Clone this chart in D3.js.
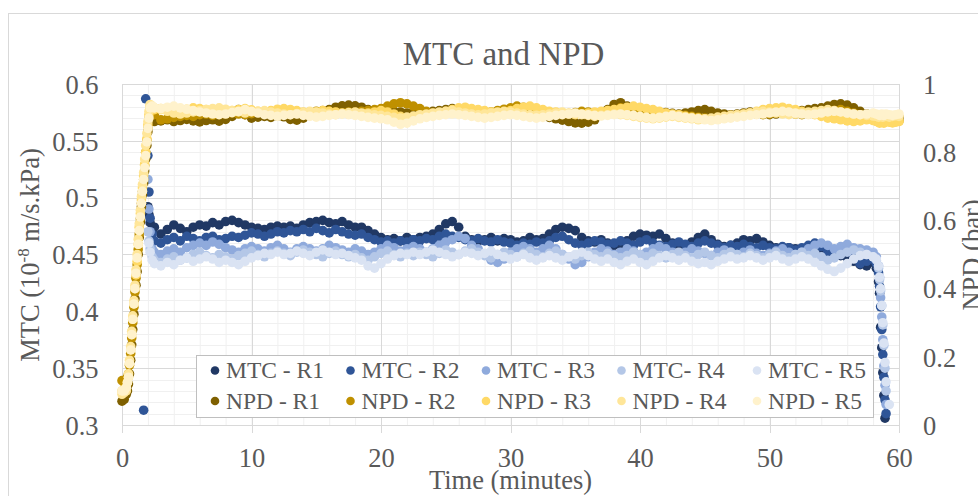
<!DOCTYPE html>
<html>
<head>
<meta charset="utf-8">
<title>MTC and NPD</title>
<script src="https://cdn.jsdelivr.net/npm/d3@7"></script>
<style>
    body { margin: 0; background: #fff; }
    #chart-area text { font-family: "Liberation Serif", "Times New Roman", serif; fill: #595959; }
</style>
</head>
<body>
<div id="chart-area"></div>
<script>

// sample times (minutes) shared by all ten series
var minutes = [
    0, 0.17, 0.33, 0.42, 0.5, 0.58, 0.67, 0.75, 0.83, 0.92, 1, 1.08, 1.17, 1.25,
    1.33, 1.42, 1.5, 1.58, 1.67, 1.75, 1.83, 1.92, 2, 2.08, 2.17, 2.33, 2.5,
    3, 3.5, 4, 4.5, 5, 5.5, 6, 6.5, 7, 7.5,
    8, 8.5, 9, 9.5, 10, 10.5, 11, 11.5, 12, 12.5,
    13, 13.5, 14, 14.5, 15, 15.5, 16, 16.5, 17, 17.5,
    18, 18.5, 19, 19.5, 20, 20.5, 21, 21.5, 22, 22.5,
    23, 23.5, 24, 24.5, 25, 25.5, 26, 26.5, 27, 27.5,
    28, 28.5, 29, 29.5, 30, 30.5, 31, 31.5, 32, 32.5,
    33, 33.5, 34, 34.5, 35, 35.5, 36, 36.5, 37, 37.5,
    38, 38.5, 39, 39.5, 40, 40.5, 41, 41.5, 42, 42.5,
    43, 43.5, 44, 44.5, 45, 45.5, 46, 46.5, 47, 47.5,
    48, 48.5, 49, 49.5, 50, 50.5, 51, 51.5, 52, 52.5,
    53, 53.5, 54, 54.5, 55, 55.5, 56, 56.5, 57, 57.5,
    58,
    58.25, 58.42, 58.5, 58.58, 58.67, 58.75, 58.83, 58.92, 59, 59.25, 59.5, 59.75, 60
];

// MTC (10^-8 m/s.kPa), left axis
var mtcR1 = [
    null, null, null, null, null, null, null, null, null, null, null, null, null, null,
    null, null, null, null, null, null, null, null, 0.492, 0.485, 0.478, 0.470, 0.474,
    0.468, 0.472, 0.476, 0.473, 0.470, 0.474, 0.476, 0.475, 0.478, 0.476,
    0.479, 0.480, 0.478, 0.476, 0.474, 0.473, 0.472, 0.474, 0.475, 0.474,
    0.475, 0.473, 0.476, 0.478, 0.479, 0.480, 0.478, 0.477, 0.479, 0.476,
    0.474, 0.474, 0.471, 0.468, 0.465, 0.463, 0.464, 0.462, 0.465, 0.463,
    0.465, 0.466, 0.468, 0.472, 0.477, 0.479, 0.474, 0.466, 0.463, 0.462,
    0.463, 0.465, 0.462, 0.464, 0.463, 0.461, 0.462, 0.465, 0.463, 0.464,
    0.468, 0.472, 0.474, 0.473, 0.471, 0.465, 0.462, 0.461, 0.463, 0.460,
    0.458, 0.459, 0.462, 0.466, 0.468, 0.467, 0.466, 0.468, 0.464, 0.460,
    0.458, 0.457, 0.461, 0.465, 0.468, 0.463, 0.459, 0.457, 0.458, 0.460,
    0.463, 0.462, 0.464, 0.461, 0.458, 0.456, 0.455, 0.456, 0.455, 0.454,
    0.452, 0.453, 0.455, 0.452, 0.450, 0.449, 0.447, 0.444, 0.441, 0.440,
    0.443,
    0.438, 0.426, 0.416, 0.386, 0.368, 0.346, 0.326, 0.306, null, null, null, null, null
];
var mtcR2 = [
    null, null, null, null, null, null, null, null, null, null, null, null, null, null,
    null, null, null, null, 0.313, null, 0.587, null, 0.537, 0.505, 0.482, 0.468, 0.462,
    0.460, 0.463, 0.465, 0.462, 0.466, 0.464, 0.462, 0.465, 0.466, 0.463,
    0.464, 0.466, 0.465, 0.467, 0.469, 0.468, 0.466, 0.468, 0.470, 0.469,
    0.471, 0.470, 0.472, 0.470, 0.473, 0.471, 0.469, 0.472, 0.470, 0.468,
    0.467, 0.468, 0.465, 0.463, 0.461, 0.462, 0.460, 0.462, 0.461, 0.463,
    0.462, 0.464, 0.463, 0.466, 0.468, 0.466, 0.465, 0.463, 0.462, 0.464,
    0.462, 0.461, 0.463, 0.461, 0.460, 0.458, 0.460, 0.459, 0.461, 0.460,
    0.462, 0.465, 0.466, 0.463, 0.460, 0.458, 0.460, 0.462, 0.461, 0.459,
    0.460, 0.462, 0.460, 0.458, 0.461, 0.463, 0.460, 0.458, 0.457, 0.459,
    0.461, 0.459, 0.457, 0.460, 0.462, 0.460, 0.458, 0.456, 0.458, 0.457,
    0.459, 0.457, 0.456, 0.458, 0.456, 0.455, 0.457, 0.456, 0.454, 0.456,
    0.458, 0.460, 0.457, 0.453, 0.450, 0.452, 0.455, 0.449, 0.442, 0.444,
    0.446,
    0.442, 0.434, 0.422, 0.404, 0.384, 0.362, 0.342, 0.322, 0.310, null, null, null, null
];
var mtcR3 = [
    null, null, null, null, null, null, null, null, null, null, null, null, null, null,
    null, null, null, null, null, null, null, null, 0.516, 0.490, 0.470, 0.455, 0.452,
    0.450, 0.453, 0.455, 0.452, 0.456, 0.458, 0.460, 0.458, 0.461, 0.459,
    0.456, 0.454, 0.452, 0.455, 0.457, 0.455, 0.453, 0.456, 0.458, 0.455,
    0.452, 0.455, 0.457, 0.455, 0.453, 0.455, 0.458, 0.456, 0.454, 0.452,
    0.455, 0.453, 0.450, 0.452, 0.455, 0.458, 0.456, 0.453, 0.455, 0.457,
    0.455, 0.452, 0.455, 0.458, 0.461, 0.463, 0.466, 0.464, 0.458, 0.455,
    0.450, 0.445, 0.443, 0.446, 0.452, 0.455, 0.457, 0.455, 0.452, 0.455,
    0.458, 0.455, 0.450, 0.446, 0.441, 0.443, 0.448, 0.452, 0.455, 0.453,
    0.450, 0.452, 0.455, 0.453, 0.450, 0.452, 0.455, 0.457, 0.455, 0.452,
    0.450, 0.452, 0.455, 0.453, 0.451, 0.449, 0.452, 0.454, 0.452, 0.450,
    0.452, 0.454, 0.451, 0.449, 0.451, 0.453, 0.455, 0.452, 0.450, 0.452,
    0.455, 0.458, 0.460, 0.458, 0.455, 0.457, 0.459, 0.456, 0.455, 0.454,
    0.452,
    0.448, 0.440, 0.430, 0.412, 0.395, 0.375, 0.352, 0.335, 0.318, null, null, null, null
];
var mtcR4 = [
    null, null, null, null, null, null, null, null, null, null, null, null, null, null,
    null, null, null, null, null, null, null, null, 0.470, 0.462, 0.455, 0.448, 0.445,
    0.443, 0.446, 0.448, 0.445, 0.447, 0.450, 0.452, 0.449, 0.447, 0.450,
    0.448, 0.446, 0.449, 0.451, 0.453, 0.450, 0.448, 0.451, 0.453, 0.451,
    0.449, 0.452, 0.454, 0.452, 0.450, 0.448, 0.451, 0.453, 0.450, 0.448,
    0.450, 0.447, 0.445, 0.448, 0.451, 0.453, 0.450, 0.448, 0.451, 0.449,
    0.452, 0.450, 0.448, 0.451, 0.454, 0.452, 0.450, 0.453, 0.455, 0.452,
    0.449, 0.447, 0.450, 0.452, 0.450, 0.448, 0.451, 0.453, 0.450, 0.448,
    0.451, 0.453, 0.450, 0.448, 0.446, 0.449, 0.452, 0.450, 0.448, 0.451,
    0.449, 0.447, 0.449, 0.452, 0.450, 0.448, 0.451, 0.449, 0.447, 0.450,
    0.452, 0.449, 0.447, 0.450, 0.452, 0.449, 0.447, 0.450, 0.452, 0.450,
    0.448, 0.451, 0.449, 0.447, 0.450, 0.452, 0.449, 0.447, 0.450, 0.452,
    0.449, 0.451, 0.448, 0.445, 0.447, 0.450, 0.452, 0.454, 0.452, 0.450,
    0.448,
    0.445, 0.438, 0.428, 0.418, 0.405, 0.388, 0.370, 0.350, 0.330, null, null, null, null
];
var mtcR5 = [
    null, null, null, null, null, null, null, null, null, null, null, null, null, null,
    null, null, null, null, null, null, null, null, null, 0.460, 0.452, 0.445, 0.442,
    0.440, 0.443, 0.441, 0.445, 0.447, 0.444, 0.446, 0.448, 0.446, 0.443,
    0.445, 0.443, 0.441, 0.444, 0.447, 0.449, 0.451, 0.450, 0.452, 0.450,
    0.451, 0.453, 0.451, 0.449, 0.452, 0.454, 0.452, 0.450, 0.451, 0.449,
    0.447, 0.445, 0.440, 0.438, 0.442, 0.446, 0.449, 0.451, 0.450, 0.452,
    0.450, 0.452, 0.454, 0.452, 0.450, 0.448, 0.450, 0.452, 0.451, 0.449,
    0.451, 0.453, 0.450, 0.448, 0.446, 0.448, 0.450, 0.447, 0.445, 0.447,
    0.449, 0.447, 0.445, 0.448, 0.450, 0.452, 0.449, 0.446, 0.444, 0.446,
    0.443, 0.441, 0.444, 0.446, 0.443, 0.441, 0.444, 0.447, 0.449, 0.447,
    0.445, 0.447, 0.444, 0.442, 0.443, 0.441, 0.444, 0.446, 0.448, 0.446,
    0.447, 0.449, 0.447, 0.445, 0.447, 0.449, 0.446, 0.444, 0.446, 0.448,
    0.446, 0.443, 0.440, 0.437, 0.435, 0.438, 0.442, 0.446, 0.449, 0.450,
    0.448,
    0.446, 0.440, 0.430, 0.420, 0.405, 0.390, 0.372, 0.355, 0.338, 0.318, null, null, null
];

// NPD (bar), right axis
var npdR1 = [
    0.070, 0.075, 0.090, 0.100, 0.120, 0.150, 0.190, 0.235, 0.280, 0.325, 0.370, 0.410, 0.450, 0.500,
    0.550, 0.595, 0.640, 0.675, 0.710, 0.745, 0.780, 0.820, 0.860, 0.895, 0.920, 0.900, 0.890,
    0.892, 0.895, 0.890, 0.893, 0.896, 0.892, 0.889, 0.893, 0.895, 0.891,
    0.896, 0.905, 0.925, 0.910, 0.900, 0.903, 0.905, 0.902, 0.906, 0.904,
    0.896, 0.894, 0.900, 0.908, 0.912, 0.918, 0.925, 0.932, 0.936, 0.938,
    0.936, 0.932, 0.925, 0.920, 0.918, 0.916, 0.920, 0.918, 0.915, 0.918,
    0.915, 0.918, 0.920, 0.922, 0.925, 0.928, 0.926, 0.920, 0.915, 0.912,
    0.910, 0.912, 0.915, 0.918, 0.920, 0.918, 0.915, 0.912, 0.908, 0.905,
    0.902, 0.898, 0.894, 0.890, 0.886, 0.885, 0.888, 0.895, 0.910, 0.925,
    0.940, 0.945, 0.935, 0.925, 0.918, 0.915, 0.912, 0.914, 0.916, 0.914,
    0.912, 0.915, 0.918, 0.922, 0.925, 0.920, 0.915, 0.912, 0.910, 0.912,
    0.915, 0.918, 0.915, 0.912, 0.910, 0.912, 0.915, 0.918, 0.920, 0.922,
    0.925, 0.928, 0.930, 0.935, 0.940, 0.942, 0.938, 0.930, 0.920, 0.912,
    0.905,
    0.902, 0.900, 0.898, 0.900, 0.902, 0.900, 0.898, 0.900, 0.902, 0.900, 0.898, 0.900, 0.902
];
var npdR2 = [
    0.130, 0.125, 0.130, 0.140, 0.150, 0.175, 0.210, 0.255, 0.300, 0.345, 0.390, 0.430, 0.470, 0.515,
    0.560, 0.605, 0.650, 0.685, 0.720, 0.760, 0.800, 0.835, 0.870, 0.900, 0.925, 0.915, 0.910,
    0.895, 0.898, 0.902, 0.905, 0.908, 0.905, 0.910, 0.912, 0.908, 0.910,
    0.912, 0.915, 0.912, 0.910, 0.913, 0.916, 0.914, 0.912, 0.915, 0.918,
    0.920, 0.918, 0.915, 0.918, 0.920, 0.922, 0.920, 0.918, 0.915, 0.918,
    0.918, 0.920, 0.922, 0.925, 0.928, 0.935, 0.942, 0.945, 0.942, 0.935,
    0.928, 0.920, 0.915, 0.912, 0.915, 0.918, 0.920, 0.918, 0.915, 0.912,
    0.915, 0.918, 0.922, 0.926, 0.930, 0.935, 0.932, 0.925, 0.920, 0.918,
    0.915, 0.912, 0.910, 0.913, 0.916, 0.920, 0.918, 0.915, 0.918, 0.922,
    0.925, 0.930, 0.925, 0.920, 0.915, 0.910, 0.905, 0.902, 0.905, 0.908,
    0.910, 0.908, 0.905, 0.902, 0.900, 0.898, 0.902, 0.905, 0.908, 0.910,
    0.912, 0.915, 0.912, 0.910, 0.912, 0.915, 0.918, 0.915, 0.912, 0.910,
    0.912, 0.915, 0.918, 0.920, 0.922, 0.925, 0.920, 0.915, 0.910, 0.905,
    0.900,
    0.898, 0.895, 0.892, 0.890, 0.888, 0.890, 0.892, 0.895, 0.893, 0.890, 0.888, 0.890, 0.892
];
var npdR3 = [
    0.100, 0.105, 0.110, 0.125, 0.140, 0.180, 0.220, 0.265, 0.310, 0.355, 0.400, 0.440, 0.480, 0.530,
    0.580, 0.620, 0.660, 0.695, 0.730, 0.765, 0.800, 0.840, 0.880, 0.910, 0.935, 0.930, 0.925,
    0.928, 0.925, 0.920, 0.922, 0.926, 0.930, 0.928, 0.925, 0.922, 0.920,
    0.918, 0.922, 0.925, 0.928, 0.924, 0.920, 0.918, 0.922, 0.926, 0.928,
    0.925, 0.922, 0.918, 0.915, 0.918, 0.922, 0.920, 0.918, 0.915, 0.912,
    0.910, 0.912, 0.915, 0.918, 0.922, 0.918, 0.912, 0.905, 0.900, 0.898,
    0.902, 0.905, 0.910, 0.915, 0.920, 0.925, 0.930, 0.932, 0.928, 0.925,
    0.922, 0.918, 0.915, 0.918, 0.922, 0.928, 0.932, 0.935, 0.930, 0.925,
    0.920, 0.918, 0.915, 0.912, 0.910, 0.912, 0.915, 0.918, 0.920, 0.922,
    0.925, 0.928, 0.932, 0.935, 0.932, 0.928, 0.925, 0.920, 0.915, 0.912,
    0.910, 0.905, 0.902, 0.900, 0.898, 0.895, 0.898, 0.900, 0.905, 0.908,
    0.910, 0.915, 0.920, 0.925, 0.928, 0.930, 0.932, 0.928, 0.925, 0.920,
    0.915, 0.910, 0.905, 0.900, 0.898, 0.895, 0.892, 0.890, 0.892, 0.895,
    0.893,
    0.890, 0.888, 0.885, 0.888, 0.890, 0.888, 0.885, 0.888, 0.890, 0.888, 0.886, 0.888, 0.890
];
var npdR4 = [
    0.090, 0.095, 0.100, 0.125, 0.150, 0.190, 0.230, 0.275, 0.320, 0.365, 0.410, 0.455, 0.500, 0.545,
    0.590, 0.630, 0.670, 0.705, 0.740, 0.780, 0.820, 0.855, 0.890, 0.920, 0.940, 0.935, 0.930,
    0.925, 0.920, 0.915, 0.912, 0.915, 0.918, 0.922, 0.925, 0.928, 0.930,
    0.926, 0.922, 0.918, 0.915, 0.918, 0.920, 0.922, 0.918, 0.915, 0.912,
    0.910, 0.913, 0.916, 0.920, 0.918, 0.915, 0.912, 0.910, 0.913, 0.916,
    0.918, 0.915, 0.912, 0.910, 0.908, 0.905, 0.902, 0.900, 0.903, 0.906,
    0.910, 0.912, 0.915, 0.918, 0.920, 0.922, 0.918, 0.915, 0.912, 0.910,
    0.912, 0.915, 0.918, 0.920, 0.918, 0.915, 0.912, 0.910, 0.908, 0.910,
    0.912, 0.915, 0.918, 0.915, 0.912, 0.910, 0.908, 0.905, 0.908, 0.910,
    0.912, 0.910, 0.908, 0.905, 0.902, 0.900, 0.898, 0.900, 0.903, 0.905,
    0.902, 0.900, 0.898, 0.895, 0.898, 0.900, 0.903, 0.905, 0.908, 0.910,
    0.912, 0.915, 0.918, 0.920, 0.918, 0.915, 0.912, 0.910, 0.912, 0.915,
    0.918, 0.920, 0.922, 0.925, 0.922, 0.918, 0.915, 0.912, 0.910, 0.908,
    0.906,
    0.905, 0.903, 0.905, 0.907, 0.905, 0.903, 0.905, 0.907, 0.905, 0.903, 0.905, 0.907, 0.905
];
var npdR5 = [
    0.100, 0.100, 0.110, 0.125, 0.140, 0.180, 0.220, 0.265, 0.310, 0.355, 0.400, 0.445, 0.490, 0.530,
    0.570, 0.610, 0.650, 0.685, 0.720, 0.755, 0.790, 0.830, 0.870, 0.900, 0.930, 0.935, 0.930,
    0.928, 0.932, 0.935, 0.930, 0.926, 0.922, 0.918, 0.915, 0.912, 0.910,
    0.912, 0.916, 0.920, 0.925, 0.920, 0.915, 0.910, 0.908, 0.905, 0.908,
    0.910, 0.912, 0.908, 0.905, 0.903, 0.905, 0.908, 0.910, 0.912, 0.910,
    0.908, 0.905, 0.902, 0.900, 0.898, 0.895, 0.888, 0.882, 0.885, 0.892,
    0.898, 0.902, 0.905, 0.908, 0.910, 0.912, 0.910, 0.908, 0.905, 0.902,
    0.900, 0.902, 0.905, 0.908, 0.910, 0.908, 0.905, 0.902, 0.900, 0.902,
    0.905, 0.908, 0.910, 0.912, 0.915, 0.912, 0.910, 0.908, 0.906, 0.908,
    0.910, 0.912, 0.910, 0.908, 0.905, 0.902, 0.900, 0.902, 0.905, 0.908,
    0.905, 0.902, 0.900, 0.898, 0.895, 0.893, 0.895, 0.898, 0.900, 0.903,
    0.905, 0.908, 0.910, 0.912, 0.915, 0.918, 0.920, 0.918, 0.915, 0.912,
    0.910, 0.912, 0.915, 0.918, 0.920, 0.918, 0.915, 0.912, 0.910, 0.912,
    0.915,
    0.912, 0.910, 0.908, 0.910, 0.912, 0.910, 0.908, 0.910, 0.912, 0.910, 0.908, 0.910, 0.912
];

var seriesNames = ["MTC - R1", "MTC - R2", "MTC - R3", "MTC- R4", "MTC - R5",
                   "NPD - R1", "NPD - R2", "NPD - R3", "NPD - R4", "NPD - R5"];
var seriesColors = ["#203864", "#2f5597", "#8faadc", "#b4c7e7", "#dae3f3",
                    "#7f6000", "#bf9000", "#ffd966", "#ffe699", "#fff2cc"];
var seriesAxis = ["left", "left", "left", "left", "left",
                  "right", "right", "right", "right", "right"];

var mtcTicks = [0.3, 0.35, 0.4, 0.45, 0.5, 0.55, 0.6];
var npdTicks = [0, 0.2, 0.4, 0.6, 0.8, 1];
var timeTicks = [0, 10, 20, 30, 40, 50, 60];

var SERIF = '"Liberation Serif", "Times New Roman", serif';


/*
 * DualAxisScatter - Object constructor function
 * @param _parentElement 	-- the HTML element in which to draw the visualization
 * @param _data				-- list of series (values aligned with minutes)
 */
DualAxisScatter = function(_parentElement, _data){
    this.parentElement = _parentElement;
    this.data = _data;
    this.displayData = [];

    this.initVis();
}

/*
 * Initialize visualization (static content, e.g. SVG area or axes)
 */
DualAxisScatter.prototype.initVis = function(){
    var vis = this;

    vis.margin = { top: 84, right: 79, bottom: 71, left: 122 };

    vis.width = 978 - vis.margin.left - vis.margin.right,
        vis.height = 496 - vis.margin.top - vis.margin.bottom;

    vis.root = d3.select("#" + vis.parentElement).append("svg")
        .attr("width", vis.width + vis.margin.left + vis.margin.right)
        .attr("height", vis.height + vis.margin.top + vis.margin.bottom)
        .style("display", "block");

    // chart frame (only top and left edges fall inside the picture)
    vis.root.append("rect")
        .attr("x", 8.5)
        .attr("y", 13.5)
        .attr("width", 1100)
        .attr("height", 700)
        .style("fill", "none")
        .style("stroke", "#d9d9d9");

    vis.root.append("text")
        .attr("x", 503.5)
        .attr("y", 65)
        .attr("text-anchor", "middle")
        .style("font-size", "33px")
        .text("MTC and NPD");

    vis.svg = vis.root.append("g")
        .attr("transform", "translate(" + vis.margin.left + "," + vis.margin.top + ")");

    // Scales
    vis.x = d3.scaleLinear()
        .domain([0, 60])
        .range([0, vis.width]);

    vis.yLeft = d3.scaleLinear()
        .domain([0.3, 0.6])
        .range([vis.height, 0]);

    vis.yRight = d3.scaleLinear()
        .domain([0, 1])
        .range([vis.height, 0]);

    // minor grid (every 2 min / 0.01)
    vis.svg.append("g").attr("class", "grid-minor")
        .selectAll("line.vx")
        .data(d3.range(0, 61, 2))
        .join("line")
        .attr("x1", d => vis.x(d) + 0.5).attr("x2", d => vis.x(d) + 0.5)
        .attr("y1", 0).attr("y2", vis.height)
        .style("stroke", "#f0f0f0");

    vis.svg.select(".grid-minor")
        .selectAll("line.hy")
        .data(d3.range(30, 61, 1).map(d => d / 100))
        .join(enter => enter.append("line").attr("class", "hy"))
        .attr("x1", 0).attr("x2", vis.width)
        .attr("y1", d => Math.round(vis.yLeft(d)) + 0.5).attr("y2", d => Math.round(vis.yLeft(d)) + 0.5)
        .style("stroke", "#f0f0f0");

    // major grid, vertical lines run down as tick marks
    vis.svg.append("g").attr("class", "grid-major")
        .selectAll("line.vx")
        .data(timeTicks)
        .join("line")
        .attr("x1", d => Math.round(vis.x(d)) + 0.5).attr("x2", d => Math.round(vis.x(d)) + 0.5)
        .attr("y1", 0).attr("y2", vis.height + 8)
        .style("stroke", "#d9d9d9");

    vis.svg.select(".grid-major")
        .selectAll("line.hy")
        .data(mtcTicks)
        .join(enter => enter.append("line").attr("class", "hy"))
        .attr("x1", 0).attr("x2", vis.width)
        .attr("y1", d => Math.round(vis.yLeft(d)) + 0.5).attr("y2", d => Math.round(vis.yLeft(d)) + 0.5)
        .style("stroke", "#d9d9d9");

    // Axes
    vis.xAxis = d3.axisBottom(vis.x)
        .tickValues(timeTicks)
        .tickSize(0)
        .tickPadding(23);

    vis.yAxisLeft = d3.axisLeft(vis.yLeft)
        .tickValues(mtcTicks)
        .tickSize(0)
        .tickPadding(23.5)
        .tickFormat(d => String(d));

    vis.yAxisRight = d3.axisRight(vis.yRight)
        .tickValues(npdTicks)
        .tickSize(0)
        .tickPadding(24)
        .tickFormat(d => String(d));

    vis.svg.append("g")
        .attr("class", "x-axis axis")
        .attr("transform", "translate(0," + vis.height + ")");

    vis.svg.append("g")
        .attr("class", "y-axis-left axis");

    vis.svg.append("g")
        .attr("class", "y-axis-right axis")
        .attr("transform", "translate(" + vis.width + ",0)");

    // axis titles
    var leftTitle = vis.root.append("text")
        .attr("text-anchor", "middle")
        .attr("transform", "translate(39,255)rotate(-90)")
        .style("font-size", "26.5px");
    leftTitle.append("tspan").text("MTC (10");
    leftTitle.append("tspan").attr("dy", -10).style("font-size", "17px").text("-8");
    leftTitle.append("tspan").attr("dy", 10).text(" m/s.kPa)");

    vis.root.append("text")
        .attr("text-anchor", "middle")
        .attr("transform", "translate(981,255)rotate(-90)")
        .style("font-size", "26.5px")
        .text("NPD (bar)");

    vis.root.append("text")
        .attr("text-anchor", "middle")
        .attr("x", vis.margin.left + vis.width / 2)
        .attr("y", 489)
        .style("font-size", "26.5px")
        .text("Time (minutes)");

    vis.wrangleData();
}


/*
 * Data wrangling: pair each value with its time, drop empty cells
 */
DualAxisScatter.prototype.wrangleData = function(){
    var vis = this;

    vis.displayData = vis.data.map(s => ({
        name: s.name,
        color: s.color,
        axis: s.axis,
        points: minutes
            .map((t, i) => ({ t: t, v: s.values[i], axis: s.axis }))
            .filter(p => p.v !== null)
    }));

    vis.updateVis();
}


/*
 * The drawing function
 */
DualAxisScatter.prototype.updateVis = function(){
    var vis = this;

    vis.svg.select(".x-axis").call(vis.xAxis);
    vis.svg.select(".y-axis-left").call(vis.yAxisLeft);
    vis.svg.select(".y-axis-right").call(vis.yAxisRight);

    vis.svg.selectAll(".axis")
        .attr("font-family", SERIF)
        .attr("font-size", null);
    vis.svg.selectAll(".axis .domain").remove();
    vis.svg.selectAll(".axis text")
        .style("font-size", "26.5px")
        .style("font-family", SERIF)
        .style("fill", "#595959");
    vis.svg.selectAll(".y-axis-left text, .y-axis-right text").attr("dy", "0.35em");

    // markers, series drawn in order (NPD last, on top)
    vis.svg.selectAll(".series")
        .data(vis.displayData)
        .join("g")
        .attr("class", "series")
        .style("fill", d => d.color)
        .selectAll("circle")
        .data(d => d.points)
        .join("circle")
        .attr("cx", d => vis.x(d.t))
        .attr("cy", d => d.axis === "left" ? vis.yLeft(d.v) : vis.yRight(d.v))
        .attr("r", 4.8);

    // legend
    var legend = vis.root.append("g").attr("class", "legend");

    legend.append("rect")
        .attr("x", 196.5)
        .attr("y", 355.5)
        .attr("width", 677)
        .attr("height", 62)
        .style("fill", "#fff")
        .style("stroke", "#bfbfbf");

    var colW = 135.5;
    var entries = legend.selectAll(".entry")
        .data(vis.displayData)
        .join("g")
        .attr("class", "entry")
        .attr("transform", (d, i) => "translate(" + (215 + (i % 5) * colW) + "," + (i < 5 ? 370.5 : 401) + ")");

    entries.append("circle")
        .attr("r", 4.3)
        .style("fill", d => d.color);

    entries.append("text")
        .attr("x", 11)
        .attr("y", 7.5)
        .style("font-size", "23.5px")
        .text(d => d.name);
}


var allSeries = [mtcR1, mtcR2, mtcR3, mtcR4, mtcR5, npdR1, npdR2, npdR3, npdR4, npdR5]
    .map((values, i) => ({
        name: seriesNames[i],
        color: seriesColors[i],
        axis: seriesAxis[i],
        values: values
    }));

var chart = new DualAxisScatter("chart-area", allSeries);

</script>
</body>
</html>
